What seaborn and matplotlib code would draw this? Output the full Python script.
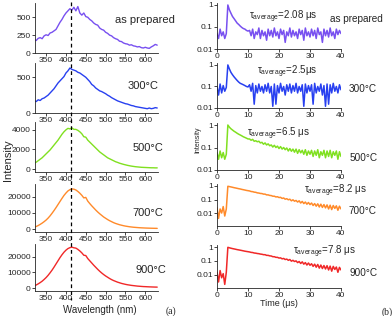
import numpy as np
import pandas as pd
import matplotlib.pyplot as plt
import matplotlib.transforms as mtransforms
from matplotlib.lines import Line2D
import seaborn as sns

# ---- data ----
samples = ['as prepared', '300°C', '500°C', '700°C', '900°C']
colors = ['#7850F0', '#2840F0', '#80E020', '#FF8A2A', '#F02828']
lifetimes = ['2.08 μs', '2.5μs', '6.5 μs', '8.2 μs', '7.8 μs']

# (a) PL spectra, 320..630 nm every 5 nm
wavelength = np.arange(320, 631, 5)
pl_asprep = [190, 175, 205, 215, 200, 240, 255, 245, 280, 290, 310, 330, 380, 430, 470, 520,
             560, 590, 620, 600, 640, 590, 650, 560, 530, 560, 510, 500, 470, 450, 420, 400,
             390, 350, 330, 320, 290, 275, 250, 240, 215, 200, 190, 165, 160, 140, 130, 125,
             110, 115, 100, 95, 85, 90, 75, 70, 80, 70, 65, 85, 100, 120, 110]
pl_300 = [170, 160, 185, 175, 200, 210, 230, 250, 280, 310, 340, 380, 420, 450, 480, 510,
          560, 590, 630, 610, 600, 590, 570, 560, 540, 520, 500, 470, 440, 400, 380, 350,
          330, 310, 300, 285, 270, 250, 235, 215, 200, 185, 170, 160, 150, 140, 130, 125,
          115, 105, 100, 90, 85, 80, 75, 70, 65, 60, 70, 60, 65, 75, 70]
pl_500 = [600, 700, 850, 1000, 1150, 1350, 1550, 1750, 1950, 2200, 2450, 2700, 2950, 3250,
          3550, 3800, 4000, 4150, 4100, 4200, 4050, 4050, 3950, 3800, 3600, 3300, 3250, 2950,
          2750, 2550, 2350, 2150, 1950, 1750, 1600, 1450, 1300, 1150, 1050, 950, 850, 750,
          680, 600, 540, 480, 430, 380, 340, 300, 270, 240, 220, 200, 180, 170, 160, 150,
          140, 130, 130, 120, 120]
pl_700 = [1200, 1600, 2200, 2900, 3700, 4600, 5600, 6800, 8200, 9800, 11500, 13300, 15200,
          17100, 19000, 20800, 22300, 23600, 24400, 24800, 24700, 24200, 23300, 22200, 20900,
          19300, 19600, 17300, 15800, 14400, 13100, 11800, 10600, 9500, 8500, 7500, 6700,
          5900, 5200, 4600, 4000, 3500, 3100, 2700, 2400, 2100, 1850, 1650, 1450, 1300, 1150,
          1050, 950, 850, 780, 720, 660, 610, 570, 530, 500, 470, 450]
pl_900 = [1500, 2000, 2700, 3500, 4400, 5500, 6700, 8100, 9700, 11400, 13300, 15300, 17300,
          19300, 21100, 22700, 24000, 25000, 25600, 25900, 25500, 25300, 24500, 23500, 22300,
          20800, 20600, 18700, 17300, 15900, 14500, 13200, 11900, 10700, 9600, 8600, 7700,
          6900, 6100, 5400, 4800, 4300, 3800, 3400, 3000, 2700, 2400, 2150, 1950, 1750, 1600,
          1450, 1300, 1200, 1100, 1000, 950, 880, 820, 770, 720, 680, 650]
peak_nm = 412

# (b) normalised decays, 0..40 us every 0.5 us
time_us = np.arange(0, 40.01, 0.5)
dec_asprep = [0.05, 0.03, 0.08, 0.04, 0.06, 0.03, 0.05,
              1.0, 0.6, 0.42, 0.3, 0.24, 0.19, 0.15, 0.13, 0.11, 0.095, 0.085, 0.08, 0.07, 0.065,
              0.07, 0.04, 0.08, 0.03, 0.06, 0.045, 0.09, 0.03, 0.07, 0.04,
              0.06, 0.025, 0.08, 0.04, 0.07, 0.035, 0.09, 0.04, 0.06, 0.03,
              0.08, 0.045, 0.07, 0.02, 0.06, 0.04, 0.09, 0.035, 0.07, 0.04,
              0.06, 0.03, 0.08, 0.045, 0.07, 0.025, 0.09, 0.04, 0.06, 0.035,
              0.08, 0.04, 0.07, 0.03, 0.09, 0.045, 0.06, 0.02, 0.08, 0.04,
              0.07, 0.035, 0.09, 0.04, 0.06, 0.03, 0.08, 0.045, 0.07, 0.05]
dec_300 = [0.1, 0.04, 0.13, 0.05, 0.11, 0.06, 0.09,
           1.0, 0.65, 0.45, 0.35, 0.28, 0.23, 0.19, 0.16, 0.14, 0.13, 0.12, 0.11, 0.1, 0.095,
           0.12, 0.06, 0.14, 0.015, 0.11, 0.05, 0.13, 0.06, 0.1, 0.05,
           0.12, 0.06, 0.14, 0.05, 0.1, 0.012, 0.13, 0.015, 0.11, 0.05,
           0.14, 0.06, 0.1, 0.04, 0.12, 0.06, 0.13, 0.05, 0.11, 0.06,
           0.14, 0.05, 0.1, 0.06, 0.12, 0.012, 0.13, 0.05, 0.11, 0.06,
           0.12, 0.015, 0.14, 0.05, 0.1, 0.06, 0.13, 0.04, 0.11, 0.012,
           0.13, 0.015, 0.12, 0.05, 0.14, 0.06, 0.1, 0.05, 0.12, 0.07]
dec_500 = [0.06, 0.03, 0.07, 0.035, 0.06, 0.03, 0.05,
           1.0, 0.8, 0.68, 0.6, 0.53, 0.48, 0.43, 0.39, 0.36, 0.33, 0.3, 0.28, 0.26, 0.24,
           0.24, 0.21, 0.23, 0.19, 0.2, 0.18, 0.19, 0.16, 0.17, 0.14,
           0.16, 0.13, 0.145, 0.12, 0.13, 0.105, 0.125, 0.1, 0.115, 0.09,
           0.11, 0.085, 0.1, 0.08, 0.095, 0.07, 0.09, 0.068, 0.085, 0.062,
           0.085, 0.055, 0.08, 0.058, 0.075, 0.05, 0.08, 0.045, 0.07, 0.05,
           0.075, 0.04, 0.07, 0.045, 0.08, 0.035, 0.065, 0.045, 0.075, 0.035,
           0.07, 0.04, 0.075, 0.035, 0.065, 0.045, 0.07, 0.03, 0.065, 0.04]
dec_700 = [0.025, 0.004, 0.02, 0.01, 0.03, 0.006, 0.02,
           0.95, 0.9, 0.85, 0.8, 0.75, 0.71, 0.67, 0.63, 0.6, 0.56, 0.53, 0.5, 0.47, 0.45,
           0.43, 0.39, 0.38, 0.35, 0.34, 0.31, 0.3, 0.28, 0.275, 0.25,
           0.25, 0.22, 0.22, 0.2, 0.195, 0.175, 0.175, 0.155, 0.16, 0.14,
           0.145, 0.12, 0.13, 0.105, 0.115, 0.095, 0.105, 0.08, 0.095, 0.075,
           0.085, 0.065, 0.08, 0.055, 0.072, 0.05, 0.065, 0.045, 0.06, 0.042,
           0.055, 0.036, 0.05, 0.032, 0.048, 0.028, 0.045, 0.026, 0.042, 0.024,
           0.04, 0.02, 0.038, 0.018, 0.036, 0.022, 0.034, 0.016, 0.032, 0.02]
dec_900 = [0.015, 0.003, 0.02, 0.006, 0.012, 0.002, 0.015,
           0.95, 0.88, 0.82, 0.77, 0.73, 0.69, 0.65, 0.62, 0.59, 0.56, 0.53, 0.5, 0.48, 0.46,
           0.44, 0.41, 0.4, 0.37, 0.36, 0.34, 0.33, 0.31, 0.3, 0.28,
           0.28, 0.25, 0.25, 0.23, 0.225, 0.2, 0.2, 0.18, 0.18, 0.16,
           0.165, 0.14, 0.15, 0.125, 0.135, 0.11, 0.125, 0.095, 0.11, 0.09,
           0.1, 0.075, 0.09, 0.065, 0.085, 0.058, 0.075, 0.05, 0.07, 0.048,
           0.062, 0.04, 0.058, 0.035, 0.055, 0.03, 0.05, 0.028, 0.046, 0.026,
           0.045, 0.022, 0.042, 0.018, 0.04, 0.024, 0.036, 0.015, 0.034, 0.022]

spectra = [pl_asprep, pl_300, pl_500, pl_700, pl_900]
decays = [dec_asprep, dec_300, dec_500, dec_700, dec_900]

# ---- style ----
sns.set_style("ticks")
plt.rcParams['font.family'] = ['Liberation Sans', 'DejaVu Sans']
plt.rcParams['axes.linewidth'] = 0.6

W, H = 392, 316
fig = plt.figure(figsize=(W / 100, H / 100), dpi=100)


def box(l, t, r, b):
    return [l / W, 1 - b / H, (r - l) / W, (b - t) / H]


left_rows = [(3, 53), (63, 113), (122, 172), (184, 232), (244, 291)]
right_rows = [(3, 49), (63, 108), (123, 170), (184, 226), (245, 288)]
left_ylim = [(0, 700), (0, 700), (-300, 4800), (-1800, 27900), (-1800, 27900)]
left_yticks = [[0, 250, 500], [0, 500], [0, 2000, 4000], [0, 10000, 20000], [0, 10000, 20000]]
right_ylim = [(0.01, 1.23), (0.01, 1.23), (0.01, 1.23), (0.0011, 1.4), (0.0011, 1.4)]


def style(ax):
    sns.despine(ax=ax)
    ax.tick_params(labelsize=6, length=2, width=0.6, pad=1)


left_axes = []
for i in range(5):
    t, b = left_rows[i]
    ax = fig.add_axes(box(35, t, 158, b))
    sns.lineplot(x=wavelength, y=spectra[i], ax=ax, color=colors[i], lw=1.0)
    ax.set_xlim(322, 632)
    ax.set_ylim(*left_ylim[i])
    ax.set_xticks([350, 400, 450, 500, 550, 600])
    ax.set_yticks(left_yticks[i])
    ax.set_xlabel('')
    ax.set_ylabel('')
    style(ax)
    left_axes.append(ax)

    t, b = right_rows[i]
    ax = fig.add_axes(box(217, t, 341, b))
    sns.lineplot(x=time_us, y=decays[i], ax=ax, color=colors[i], lw=1.1)
    ax.set_yscale('log')
    ax.set_xlim(0, 40)
    ax.set_ylim(*right_ylim[i])
    ax.set_xticks([0, 10, 20, 30, 40])
    ax.set_yticks([1, 0.1, 0.01])
    ax.set_yticklabels(['1', '0.1', '0.01'])
    ax.minorticks_off()
    ax.set_xlabel('')
    ax.set_ylabel('')
    style(ax)

# dashed line marking the emission peak through all spectra
trans = mtransforms.blended_transform_factory(left_axes[0].transData, fig.transFigure)
fig.add_artist(Line2D([peak_nm, peak_nm], [1 - 2 / H, 1 - 300 / H], transform=trans,
                      color='black', lw=0.9, ls=(0, (3, 2.5))))

# sample labels
left_lab = [(175, 20), (159, 86), (163, 148), (163, 213), (166, 270)]
right_lab = [(383, 19), (377, 89), (378, 158), (377, 211), (378, 273)]
for i in range(5):
    fig.text(left_lab[i][0] / W, 1 - left_lab[i][1] / H, samples[i], ha='right', va='center', fontsize=8)
    fig.text(right_lab[i][0] / W, 1 - right_lab[i][1] / H, samples[i], ha='right', va='center', fontsize=7.2)

tau_pos = [(249, 17), (257, 72), (247, 134), (304, 191), (293, 252)]
for i in range(5):
    fig.text(tau_pos[i][0] / W, 1 - tau_pos[i][1] / H,
             r'$\mathregular{\tau_{average}}$=' + lifetimes[i],
             ha='left', va='center', fontsize=7)

fig.text(8 / W, 1 - 160 / H, 'Intensity', rotation=90, ha='center', va='center', fontsize=8)
fig.text(198 / W, 1 - 140 / H, 'Intensity', rotation=90, ha='center', va='center', fontsize=5)
fig.text(100 / W, 1 - 310 / H, 'Wavelength (nm)', ha='center', va='center', fontsize=7)
fig.text(279 / W, 1 - 304 / H, 'Time (μs)', ha='center', va='center', fontsize=6.5)
fig.text(171 / W, 1 - 311 / H, '(a)', ha='center', va='center', fontsize=7, family='Liberation Serif')
fig.text(387 / W, 1 - 312 / H, '(b)', ha='center', va='center', fontsize=7, family='Liberation Serif')

fig.savefig('out.png', dpi=100)
